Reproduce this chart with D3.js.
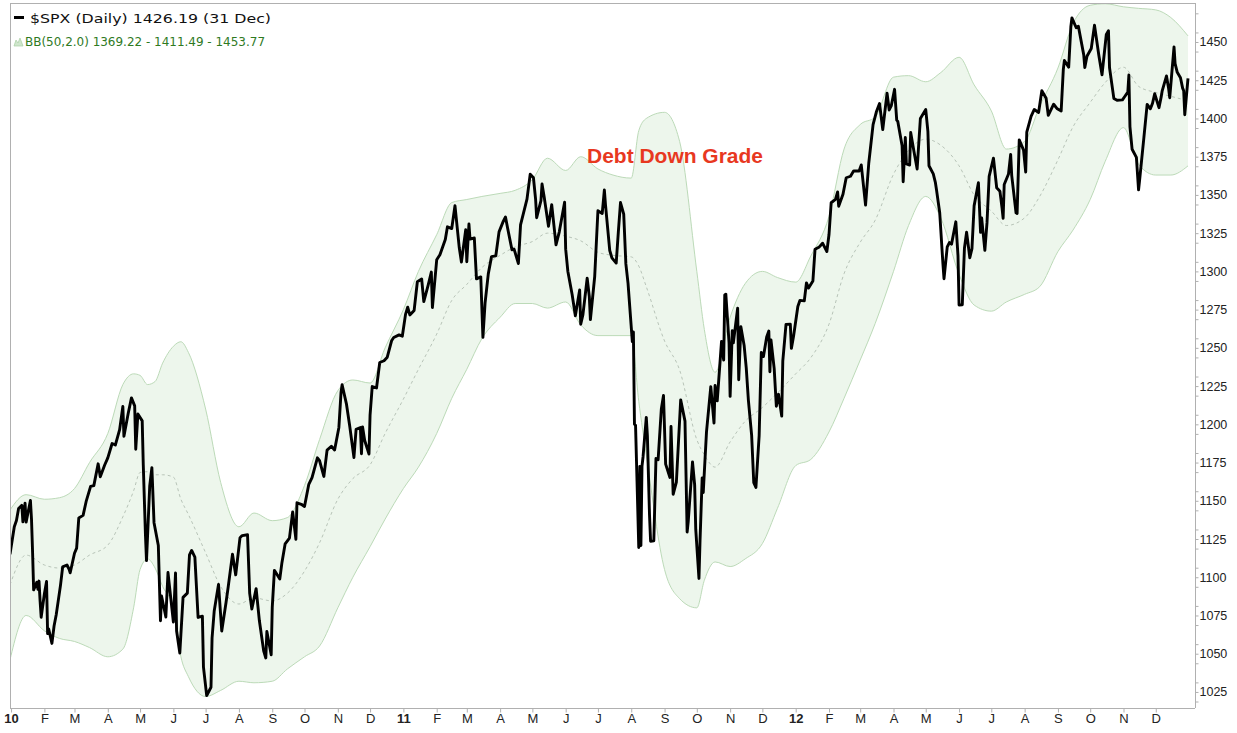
<!DOCTYPE html>
<html><head><meta charset="utf-8">
<script src="https://cdn.jsdelivr.net/npm/d3@7"></script>
<style>
html,body{margin:0;padding:0;background:#fff;}
svg{display:block;}
</style></head>
<body>
<svg id="chart" width="1237" height="733"></svg>
<script>
// ---------------- DATA ----------------
const spxDaily = [
["2009-12-31",1115.10],["2010-01-04",1132.99],["2010-01-06",1137.14],["2010-01-08",1144.98],["2010-01-11",1146.98],["2010-01-12",1136.22],["2010-01-14",1148.46],["2010-01-15",1136.03],["2010-01-19",1150.23],["2010-01-20",1138.04],["2010-01-21",1116.48],["2010-01-22",1091.76],["2010-01-25",1096.78],["2010-01-26",1092.17],["2010-01-27",1097.50],["2010-01-28",1084.53],["2010-01-29",1073.87],["2010-02-01",1089.19],["2010-02-03",1097.28],["2010-02-04",1063.11],["2010-02-05",1066.19],["2010-02-08",1056.74],["2010-02-10",1068.13],["2010-02-12",1075.51],["2010-02-16",1094.87],["2010-02-18",1106.75],["2010-02-22",1108.01],["2010-02-24",1105.24],["2010-02-25",1102.94],["2010-03-01",1115.71],["2010-03-03",1119.06],["2010-03-05",1138.70],["2010-03-09",1140.45],["2010-03-12",1149.99],["2010-03-16",1159.46],["2010-03-19",1159.90],["2010-03-23",1174.17],["2010-03-25",1165.73],["2010-03-29",1173.22],["2010-04-01",1178.10],["2010-04-05",1187.44],["2010-04-08",1186.44],["2010-04-12",1196.48],["2010-04-15",1211.67],["2010-04-16",1192.13],["2010-04-20",1207.17],["2010-04-23",1217.28],["2010-04-26",1212.05],["2010-04-27",1183.71],["2010-04-29",1206.78],["2010-05-03",1202.26],["2010-05-04",1173.60],["2010-05-06",1128.15],["2010-05-07",1110.88],["2010-05-10",1159.73],["2010-05-12",1171.67],["2010-05-14",1135.68],["2010-05-18",1120.80],["2010-05-20",1071.59],["2010-05-21",1087.69],["2010-05-25",1074.03],["2010-05-27",1103.06],["2010-06-01",1070.71],["2010-06-03",1102.83],["2010-06-04",1064.88],["2010-06-07",1050.47],["2010-06-10",1086.84],["2010-06-14",1089.63],["2010-06-16",1114.61],["2010-06-18",1117.51],["2010-06-21",1113.20],["2010-06-24",1073.69],["2010-06-28",1074.57],["2010-06-29",1041.24],["2010-07-02",1022.58],["2010-07-06",1028.06],["2010-07-07",1060.27],["2010-07-09",1077.96],["2010-07-13",1095.34],["2010-07-16",1064.88],["2010-07-20",1083.48],["2010-07-22",1093.67],["2010-07-26",1115.01],["2010-07-29",1101.53],["2010-08-02",1125.86],["2010-08-04",1127.24],["2010-08-09",1127.79],["2010-08-11",1089.47],["2010-08-13",1079.25],["2010-08-17",1092.54],["2010-08-20",1071.69],["2010-08-24",1051.87],["2010-08-26",1047.22],["2010-08-27",1064.59],["2010-08-31",1049.33],["2010-09-01",1080.29],["2010-09-03",1104.51],["2010-09-08",1098.87],["2010-09-10",1109.55],["2010-09-13",1121.90],["2010-09-17",1125.59],["2010-09-20",1142.71],["2010-09-23",1124.83],["2010-09-24",1148.67],["2010-09-28",1147.70],["2010-10-01",1146.24],["2010-10-05",1160.75],["2010-10-08",1165.15],["2010-10-13",1178.10],["2010-10-15",1176.19],["2010-10-19",1165.90],["2010-10-22",1183.08],["2010-10-26",1185.64],["2010-10-29",1183.26],["2010-11-02",1197.96],["2010-11-04",1221.06],["2010-11-05",1225.85],["2010-11-09",1213.40],["2010-11-12",1199.21],["2010-11-16",1178.34],["2010-11-18",1196.69],["2010-11-22",1197.84],["2010-11-23",1180.73],["2010-11-24",1198.35],["2010-11-26",1189.40],["2010-11-30",1180.55],["2010-12-01",1206.07],["2010-12-03",1224.71],["2010-12-07",1223.75],["2010-12-10",1240.40],["2010-12-14",1241.59],["2010-12-17",1243.91],["2010-12-21",1254.60],["2010-12-23",1256.77],["2010-12-28",1258.51],["2010-12-31",1257.64],
["2011-01-03",1271.87],["2011-01-05",1276.56],["2011-01-07",1271.50],["2011-01-11",1274.48],["2011-01-14",1293.24],["2011-01-18",1295.02],["2011-01-20",1280.26],["2011-01-24",1290.84],["2011-01-27",1299.54],["2011-01-28",1276.34],["2011-02-01",1307.59],["2011-02-04",1310.87],["2011-02-09",1320.88],["2011-02-11",1329.15],["2011-02-15",1328.01],["2011-02-18",1343.01],["2011-02-22",1315.44],["2011-02-24",1306.10],["2011-02-28",1327.22],["2011-03-01",1306.33],["2011-03-03",1330.97],["2011-03-04",1321.15],["2011-03-08",1321.82],["2011-03-10",1295.11],["2011-03-14",1296.39],["2011-03-16",1256.88],["2011-03-18",1279.21],["2011-03-21",1298.38],["2011-03-24",1309.66],["2011-03-28",1310.19],["2011-03-31",1325.83],["2011-04-04",1332.87],["2011-04-06",1335.54],["2011-04-08",1328.17],["2011-04-12",1314.16],["2011-04-14",1314.52],["2011-04-18",1305.14],["2011-04-20",1330.36],["2011-04-26",1347.24],["2011-04-29",1363.61],["2011-05-02",1361.22],["2011-05-04",1347.32],["2011-05-05",1335.10],["2011-05-09",1346.29],["2011-05-10",1357.16],["2011-05-12",1348.65],["2011-05-16",1329.47],["2011-05-19",1343.60],["2011-05-23",1317.37],["2011-05-26",1325.69],["2011-05-31",1345.20],["2011-06-01",1314.55],["2011-06-03",1300.16],["2011-06-07",1284.94],["2011-06-10",1270.98],["2011-06-14",1287.87],["2011-06-15",1265.42],["2011-06-17",1271.50],["2011-06-21",1295.52],["2011-06-23",1283.50],["2011-06-24",1268.45],["2011-06-28",1296.67],["2011-07-01",1339.67],["2011-07-05",1337.88],["2011-07-07",1353.22],["2011-07-08",1343.80],["2011-07-12",1313.64],["2011-07-14",1308.87],["2011-07-18",1305.44],["2011-07-20",1325.84],["2011-07-22",1345.02],["2011-07-25",1337.43],["2011-07-27",1304.89],["2011-07-29",1292.28],["2011-08-02",1254.05],["2011-08-03",1260.34],["2011-08-04",1200.07],["2011-08-05",1199.38],["2011-08-08",1119.46],["2011-08-09",1172.53],["2011-08-10",1120.76],["2011-08-11",1172.64],["2011-08-12",1178.81],["2011-08-15",1204.49],["2011-08-16",1192.76],["2011-08-18",1140.65],["2011-08-19",1123.53],["2011-08-22",1123.82],["2011-08-24",1177.60],["2011-08-26",1176.80],["2011-08-29",1210.08],["2011-08-31",1218.89],["2011-09-02",1173.97],["2011-09-06",1165.24],["2011-09-07",1198.62],["2011-09-09",1154.23],["2011-09-12",1162.27],["2011-09-16",1216.01],["2011-09-20",1202.09],["2011-09-22",1129.56],["2011-09-23",1136.43],["2011-09-27",1175.38],["2011-09-29",1160.40],["2011-09-30",1131.42],["2011-10-03",1099.23],["2011-10-04",1123.95],["2011-10-06",1164.97],["2011-10-07",1155.46],["2011-10-10",1194.89],["2011-10-14",1224.58],["2011-10-17",1200.86],["2011-10-18",1225.38],["2011-10-20",1215.39],["2011-10-24",1254.19],["2011-10-26",1242.00],["2011-10-27",1284.59],["2011-10-28",1285.09],["2011-10-31",1253.30],["2011-11-01",1218.28],["2011-11-03",1261.15],["2011-11-04",1253.23],["2011-11-08",1275.92],["2011-11-09",1229.10],["2011-11-11",1263.85],["2011-11-14",1251.78],["2011-11-16",1236.91],["2011-11-18",1215.65],["2011-11-21",1192.98],["2011-11-23",1161.79],["2011-11-25",1158.67],["2011-11-28",1192.55],["2011-11-30",1246.96],["2011-12-02",1244.28],["2011-12-05",1257.08],["2011-12-07",1261.01],["2011-12-08",1234.35],["2011-12-09",1255.19],["2011-12-12",1236.47],["2011-12-14",1211.82],["2011-12-16",1219.66],["2011-12-19",1205.35],["2011-12-20",1241.30],["2011-12-23",1265.33],["2011-12-27",1265.43],["2011-12-28",1249.64],["2011-12-30",1257.60],
["2012-01-03",1277.06],["2012-01-05",1281.06],["2012-01-09",1280.70],["2012-01-11",1292.48],["2012-01-13",1289.09],["2012-01-17",1293.67],["2012-01-19",1314.50],["2012-01-23",1316.00],["2012-01-26",1318.43],["2012-01-30",1313.01],["2012-02-01",1324.09],["2012-02-03",1344.90],["2012-02-07",1347.05],["2012-02-09",1351.95],["2012-02-10",1342.64],["2012-02-14",1350.50],["2012-02-17",1361.23],["2012-02-21",1362.21],["2012-02-24",1365.74],["2012-02-29",1365.68],["2012-03-02",1369.63],["2012-03-06",1343.36],["2012-03-09",1370.87],["2012-03-13",1395.95],["2012-03-16",1404.17],["2012-03-19",1409.75],["2012-03-22",1392.78],["2012-03-26",1416.51],["2012-03-28",1405.54],["2012-03-30",1408.47],["2012-04-02",1419.04],["2012-04-04",1398.96],["2012-04-05",1398.08],["2012-04-09",1382.20],["2012-04-10",1358.59],["2012-04-12",1387.57],["2012-04-13",1370.26],["2012-04-16",1369.57],["2012-04-17",1390.78],["2012-04-20",1378.53],["2012-04-23",1366.94],["2012-04-26",1399.98],["2012-05-01",1405.82],["2012-05-03",1391.57],["2012-05-04",1369.10],["2012-05-08",1363.72],["2012-05-10",1357.99],["2012-05-11",1353.39],["2012-05-14",1338.35],["2012-05-17",1304.86],["2012-05-18",1295.22],["2012-05-21",1315.99],["2012-05-23",1318.86],["2012-05-25",1317.82],["2012-05-29",1332.42],["2012-05-31",1310.33],["2012-06-01",1278.04],["2012-06-04",1278.18],["2012-06-06",1315.13],["2012-06-08",1325.66],["2012-06-11",1308.93],["2012-06-13",1314.88],["2012-06-15",1342.84],["2012-06-19",1357.98],["2012-06-21",1325.51],["2012-06-22",1335.02],["2012-06-25",1313.72],["2012-06-27",1331.85],["2012-06-29",1362.16],["2012-07-03",1374.02],["2012-07-06",1354.68],["2012-07-09",1352.46],["2012-07-11",1341.45],["2012-07-12",1334.76],["2012-07-13",1356.78],["2012-07-17",1363.67],["2012-07-19",1376.51],["2012-07-20",1362.66],["2012-07-24",1338.31],["2012-07-25",1337.89],["2012-07-27",1385.97],["2012-07-31",1379.32],["2012-08-02",1365.00],["2012-08-03",1390.99],["2012-08-07",1401.35],["2012-08-10",1405.87],["2012-08-14",1403.93],["2012-08-17",1418.16],["2012-08-21",1413.17],["2012-08-23",1402.08],["2012-08-28",1409.30],["2012-08-31",1406.58],["2012-09-04",1404.94],["2012-09-06",1432.12],["2012-09-07",1437.92],["2012-09-11",1433.56],["2012-09-13",1459.99],["2012-09-14",1465.77],["2012-09-18",1459.32],["2012-09-20",1460.26],["2012-09-25",1441.59],["2012-09-26",1433.32],["2012-09-28",1440.67],["2012-10-02",1445.75],["2012-10-05",1460.93],["2012-10-09",1441.48],["2012-10-12",1428.59],["2012-10-16",1454.92],["2012-10-18",1457.34],["2012-10-19",1433.19],["2012-10-23",1413.11],["2012-10-26",1411.94],["2012-10-31",1412.16],["2012-11-02",1414.20],["2012-11-05",1417.26],["2012-11-06",1428.39],["2012-11-07",1394.53],["2012-11-09",1379.85],["2012-11-13",1374.53],["2012-11-15",1353.33],["2012-11-16",1359.88],["2012-11-20",1387.81],["2012-11-23",1409.15],["2012-11-26",1406.29],["2012-11-28",1409.93],["2012-11-30",1416.18],["2012-12-04",1407.05],["2012-12-06",1413.94],["2012-12-07",1418.07],["2012-12-11",1427.84],["2012-12-13",1419.45],["2012-12-14",1413.58],["2012-12-18",1446.79],["2012-12-19",1435.81],["2012-12-21",1430.15],["2012-12-24",1426.66],["2012-12-26",1419.83],["2012-12-27",1418.10],["2012-12-28",1402.43],["2012-12-31",1426.19]
];

// Bollinger band (50, 2.0) edges: [date, upper, lower]
const bbBands = [
["2009-12-31",1144,1046],["2010-01-15",1154,1075],["2010-02-01",1151,1065],["2010-02-15",1152,1060],["2010-03-01",1158,1058],["2010-03-15",1175,1054],["2010-04-01",1194,1048],["2010-04-15",1226,1053],["2010-04-25",1233,1080],["2010-05-01",1232,1105],["2010-05-08",1226,1112],["2010-05-15",1228,1106],["2010-05-22",1240,1094],["2010-06-01",1251,1080],["2010-06-08",1254,1048],["2010-06-15",1247,1035],["2010-07-01",1210,1022],["2010-07-15",1162,1026],["2010-08-01",1133,1032],["2010-08-15",1142,1031],["2010-09-01",1137,1032],["2010-09-15",1139,1040],["2010-10-01",1160,1048],["2010-10-15",1190,1055],["2010-11-01",1222,1080],["2010-11-15",1229,1100],["2010-12-01",1227,1120],["2010-12-15",1250,1138],
["2011-01-01",1275,1158],["2011-01-15",1300,1172],["2011-02-01",1324,1194],["2011-02-15",1345,1217],["2011-03-01",1347,1236],["2011-03-15",1349,1256],["2011-04-01",1351,1270],["2011-04-15",1353,1279],["2011-05-01",1360,1279],["2011-05-15",1374,1276],["2011-06-01",1366,1280],["2011-06-15",1375,1265],["2011-07-01",1367,1258],["2011-07-15",1363,1258],["2011-08-01",1361,1258],["2011-08-08",1392,1215],["2011-08-15",1400,1180],["2011-09-01",1404,1105],["2011-09-15",1385,1086],["2011-10-01",1300,1080],["2011-10-08",1262,1098],["2011-10-18",1234,1110],["2011-11-01",1270,1107],["2011-11-15",1292,1112],["2011-12-01",1300,1122],["2011-12-15",1296,1145],
["2012-01-01",1293,1173],["2012-01-15",1310,1177],["2012-02-01",1336,1195],["2012-02-15",1380,1217],["2012-03-01",1396,1242],["2012-03-15",1401,1266],["2012-04-01",1427,1300],["2012-04-15",1428,1330],["2012-05-01",1424,1349],["2012-05-15",1430,1335],["2012-06-01",1440,1298],["2012-06-15",1422,1278],["2012-07-01",1405,1274],["2012-07-15",1380,1280],["2012-08-01",1385,1285],["2012-08-15",1408,1290],["2012-09-01",1433,1313],["2012-09-15",1462,1327],["2012-10-01",1474,1347],["2012-10-15",1475,1372],["2012-11-01",1473,1394],["2012-11-15",1472,1370],["2012-12-01",1471,1363],["2012-12-15",1466,1363],["2012-12-31",1454,1369]
];

const yTickValues = [1025,1050,1075,1100,1125,1150,1175,1200,1225,1250,1275,1300,1325,1350,1375,1400,1425,1450];
const monthLetters = ["J","F","M","A","M","J","J","A","S","O","N","D"];
const legendPrice = "$SPX (Daily) 1426.19 (31 Dec)";
const legendBB = "BB(50,2.0) 1369.22 - 1411.49 - 1453.77";
const annotation = "Debt Down Grade";

// ---------------- CHART ----------------
const parse = d3.timeParse("%Y-%m-%d");
const price = spxDaily.map(d => ({date: parse(d[0]), v: d[1]}));
const bands = bbBands.map(d => ({date: parse(d[0]), up: d[1], lo: d[2], mid: (d[1] + d[2]) / 2}));

const L = 10, R = 1188, T = 3, B = 708, FR = 1195;
const x = d3.scaleTime().domain([parse("2009-12-31"), parse("2012-12-31")]).range([L, R]);
const y = d3.scaleLinear().domain([1014.5, 1475.5]).range([B, T]);

const svg = d3.select("#chart");
svg.append("defs").append("clipPath").attr("id", "clip")
  .append("rect").attr("x", L).attr("y", T).attr("width", FR - L).attr("height", B - T);

const plot = svg.append("g").attr("clip-path", "url(#clip)");

// band fill
plot.append("path").datum(bands)
  .attr("d", d3.area().x(d => x(d.date)).y0(d => y(d.lo)).y1(d => y(d.up)).curve(d3.curveMonotoneX))
  .attr("fill", "#edf6ec");
["up", "lo"].forEach(k => {
  plot.append("path").datum(bands)
    .attr("d", d3.line().x(d => x(d.date)).y(d => y(d[k])).curve(d3.curveMonotoneX))
    .attr("fill", "none").attr("stroke", "#bcdab8").attr("stroke-width", 1);
});
plot.append("path").datum(bands)
  .attr("d", d3.line().x(d => x(d.date)).y(d => y(d.mid)).curve(d3.curveMonotoneX))
  .attr("fill", "none").attr("stroke", "#b8c4b8").attr("stroke-width", 1).attr("stroke-dasharray", "3,3");

// price
plot.append("path").datum(price)
  .attr("d", d3.line().x(d => x(d.date)).y(d => y(d.v)))
  .attr("fill", "none").attr("stroke", "#000").attr("stroke-width", 2.9)
  .attr("stroke-linejoin", "round");

// frame
const frame = svg.append("g").attr("stroke", "#b0b0b0").attr("stroke-width", 1).attr("fill", "none");
frame.append("line").attr("x1", L + 0.5).attr("x2", L + 0.5).attr("y1", T).attr("y2", B);
frame.append("line").attr("x1", L).attr("x2", FR).attr("y1", T + 0.5).attr("y2", T + 0.5);
frame.append("line").attr("x1", L).attr("x2", FR).attr("y1", B + 0.5).attr("y2", B + 0.5);

// right axis
const yAxis = svg.append("g").attr("transform", `translate(${FR + 0.5},0)`)
  .call(d3.axisRight(y).tickValues(d3.range(1018.75, 1475, 12.5)).tickSize(3).tickFormat(""));
yAxis.select(".domain").attr("stroke", "#b0b0b0").attr("d", `M0,${T}V${B}`);
yAxis.selectAll(".tick line").attr("stroke", "#b0b0b0");
const yLab = svg.append("g").attr("transform", `translate(${FR + 0.5},0)`)
  .call(d3.axisRight(y).tickValues(yTickValues).tickSize(3).tickPadding(1).tickFormat(d3.format("d")));
yLab.select(".domain").remove();
yLab.selectAll(".tick line").attr("stroke", "#b0b0b0");
yLab.selectAll(".tick text").attr("font-family", "'Liberation Sans', Arial, sans-serif")
  .attr("font-size", 12.5).attr("fill", "#222");

// bottom axis
const months = d3.timeMonth.range(parse("2010-01-01"), parse("2013-01-01"));
const xAxis = svg.append("g").attr("transform", `translate(0,${B + 0.5})`)
  .call(d3.axisBottom(x).tickValues(months).tickSize(4).tickPadding(2)
    .tickFormat(d => d.getMonth() === 0 ? d3.timeFormat("%y")(d) : monthLetters[d.getMonth()]));
xAxis.select(".domain").remove();
xAxis.selectAll(".tick line").attr("stroke", "#b0b0b0");
xAxis.selectAll(".tick text")
  .attr("font-family", "'Liberation Sans Narrow', 'Liberation Sans', Arial, sans-serif")
  .attr("font-size", 13).attr("fill", "#222")
  .attr("font-weight", d => d.getMonth() === 0 ? "bold" : "normal")
  .attr("dy", "0.62em");

// legend
const lg = svg.append("g").attr("font-family", "'DejaVu Sans', Verdana, sans-serif");
lg.append("rect").attr("x", 14).attr("y", 16).attr("width", 10).attr("height", 3).attr("fill", "#000");
lg.append("text").attr("x", 30).attr("y", 23).attr("font-size", 13).attr("fill", "#111")
  .attr("textLength", 241).attr("lengthAdjust", "spacingAndGlyphs").text(legendPrice);
lg.append("path").attr("d", "M14,46 L16,40 L18,43 L20,38 L23,46 Z").attr("fill", "#cfe6cc").attr("stroke", "#a9cfa4").attr("stroke-width", 0.7);
lg.append("text").attr("x", 25).attr("y", 46).attr("font-size", 11.5).attr("fill", "#2f7a1f")
  .attr("textLength", 240).attr("lengthAdjust", "spacingAndGlyphs").text(legendBB);

// annotation
svg.append("text").attr("x", 587).attr("y", 163)
  .attr("font-family", "'Liberation Sans', Arial, sans-serif").attr("font-weight", "bold")
  .attr("font-size", 20).attr("fill", "#e8381f")
  .attr("textLength", 176).attr("lengthAdjust", "spacingAndGlyphs").text(annotation);
</script>
</body></html>
